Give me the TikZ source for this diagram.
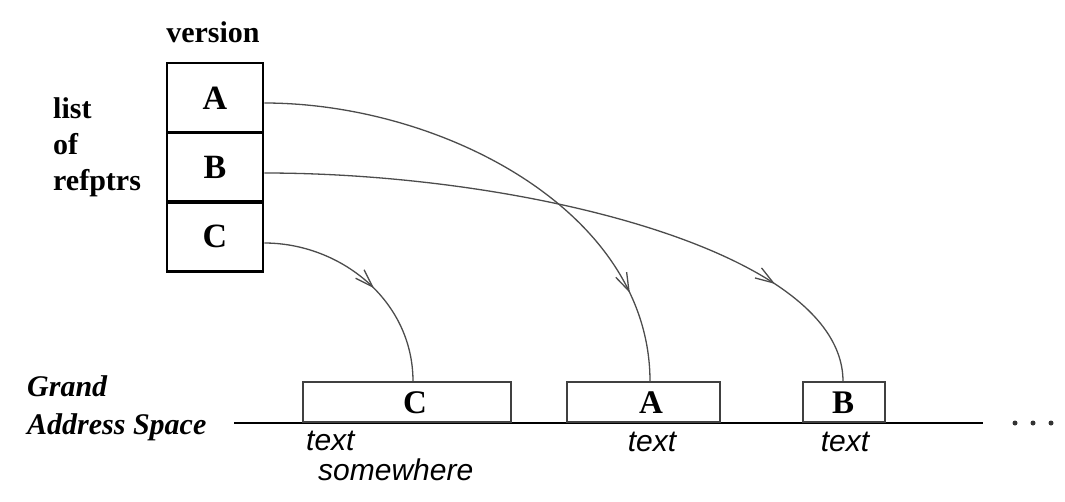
\documentclass[tikz,border=0pt]{standalone}
\usepackage{fontspec}
\setmainfont{Liberation Serif}
\newfontfamily\sansit{Liberation Sans}[ItalicFont={Liberation Sans Italic}]
\usetikzlibrary{arrows.meta,decorations.markings}
\tikzset{
  cell/.style={draw=black, line width=2.6pt, minimum width=96pt, minimum height=70pt, inner sep=0pt,
    font=\fontsize{34}{40}\selectfont\bfseries},
  abox/.style={draw=black!75, line width=1.6pt, minimum height=40pt, inner sep=0pt, anchor=south},
  alabel/.style={font=\fontsize{33}{38}\selectfont\bfseries, inner sep=0pt},
  lbl/.style={font=\fontsize{30}{36}\selectfont\bfseries, inner sep=0pt},
  itlbl/.style={font=\fontsize{30}{36}\selectfont\sansit\itshape, inner sep=0pt},
  ptr/.style={draw=black!70, line width=1.3pt, postaction={decorate},
    decoration={markings, mark=at position #1 with {\arrow[black!70, line width=1.3pt]{Straight Barb[length=18pt,width=12pt]}}}},
  dot/.style={circle, fill=black!80, inner sep=0pt, minimum size=5pt}
}
\begin{document}
\begin{tikzpicture}[x=1pt,y=-1pt]
\useasboundingbox (0,0) rectangle (1065,501);
% list of refptrs box
\node[cell] (la) at (215,98) {A};
\node[cell] (lb) at (215,167.5) {B};
\node[cell] (lc) at (215,236.5) {C};
\node[lbl] (ver) at (213,32) {version};
\node[lbl, anchor=west, align=left] (lst) at (53,147) {list\\of\\refptrs};
% address space
\node[lbl, font=\fontsize{30}{38}\selectfont\bfseries\itshape, anchor=west, align=left] (gas) at (27,408) {Grand\\Address Space};
\coordinate (ls) at (234,423);
\coordinate (le) at (983,423);
\draw[line width=2pt] (ls) -- (le);
\node[dot] (d1) at (1015,423) {};
\node[dot] (d2) at (1033,423) {};
\node[dot] (d3) at (1051,423) {};
\node[abox, minimum width=208pt] (gc) at (407,423) {};
\node[abox, minimum width=153pt] (ga) at (643.5,423) {};
\node[abox, minimum width=82pt] (gb) at (844,423) {};
\node[alabel] (gcl) at (415,403) {C};
\node[alabel] (gal) at (651,403) {A};
\node[alabel] (gbl) at (843,403) {B};
\node[itlbl, anchor=west] (t1) at (306,441) {text};
\node[itlbl, anchor=west] (t2) at (318,470) {somewhere};
\node[itlbl] (t3) at (652,442) {text};
\node[itlbl] (t4) at (845,442) {text};
% pointers
\draw[ptr=0.825] ([yshift=-5pt]la.east) .. controls (440,103) and (650,210) .. ([xshift=6.5pt]ga.north);
\draw[ptr=0.81] ([yshift=-5.5pt]lb.east) .. controls (520,173) and (843,250) .. ([xshift=-1pt]gb.north);
\draw[ptr=0.54] ([yshift=-6.5pt]lc.east) .. controls (340,243) and (413,300) .. ([xshift=6pt]gc.north);
\end{tikzpicture}
\end{document}
